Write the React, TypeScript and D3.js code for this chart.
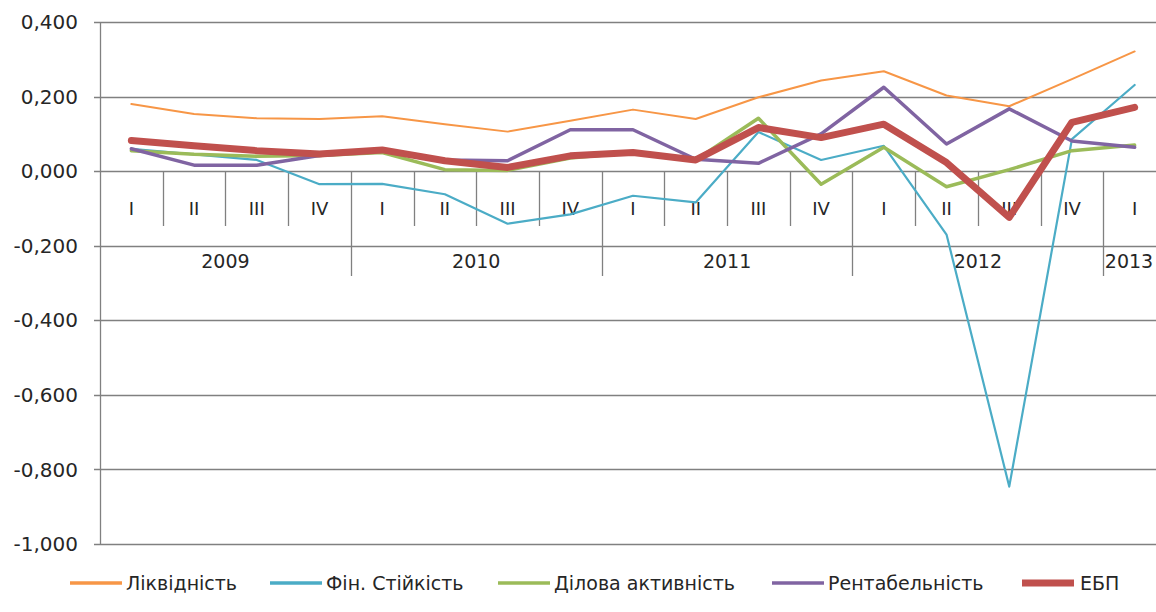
import * as React from 'react';
import * as d3 from 'd3';

const quarters = ['I', 'II', 'III', 'IV', 'I', 'II', 'III', 'IV', 'I', 'II', 'III', 'IV', 'I', 'II', 'III', 'IV', 'I'];
const years = ['2009', '2010', '2011', '2012', '2013'];
const yearSpans = [4, 4, 4, 4, 1];
const yTicks = [0.4, 0.2, 0, -0.2, -0.4, -0.6, -0.8, -1.0];

const liquidity = [0.180, 0.153, 0.142, 0.140, 0.147, 0.126, 0.106, 0.135, 0.165, 0.140, 0.198, 0.243, 0.268, 0.203, 0.174, 0.247, 0.321];
const finStability = [0.060, 0.045, 0.030, -0.035, -0.034, -0.062, -0.141, -0.116, -0.066, -0.084, 0.105, 0.030, 0.068, -0.170, -0.846, 0.086, 0.231];
const activity = [0.055, 0.045, 0.040, 0.042, 0.050, 0.004, 0.002, 0.035, 0.050, 0.030, 0.142, -0.035, 0.064, -0.042, 0.004, 0.055, 0.070];
const profitability = [0.060, 0.016, 0.016, 0.042, 0.055, 0.030, 0.028, 0.111, 0.111, 0.032, 0.021, 0.100, 0.225, 0.073, 0.167, 0.081, 0.064];
const ebp = [0.082, 0.068, 0.055, 0.046, 0.057, 0.028, 0.010, 0.041, 0.050, 0.030, 0.117, 0.090, 0.126, 0.023, -0.124, 0.131, 0.171];

const series = [
	{name: 'Ліквідність', values: liquidity, color: '#F79646', width: 2},
	{name: 'Фін. Стійкість', values: finStability, color: '#4BACC6', width: 2.2},
	{name: 'Ділова активність', values: activity, color: '#9BBB59', width: 3.5},
	{name: 'Рентабельність', values: profitability, color: '#8064A2', width: 3.5},
	{name: 'ЕБП', values: ebp, color: '#C0504D', width: 7},
];

const legendX = [70, 270, 498, 772, 1022];

const FONT = '"DejaVu Sans", sans-serif';
const W = 1156, H = 612;

const draw = (svgEl: SVGSVGElement) => {
	const svg = d3.select(svgEl);
	svg.html('');

	const left = 100, right = 1166, top = 22, bottom = 544;
	const x = d3.scaleBand<number>()
		.domain(quarters.map((_, i) => i))
		.range([left, right]);
	const y = d3.scaleLinear().domain([-1, 0.4]).range([bottom, top]);
	const cx = (i: number) => (x(i) as number) + x.bandwidth() / 2;
	const fmt = (v: number) => d3.format('.3f')(v).replace('.', ',').replace('−', '-');

	const grid = svg.append('g');
	grid.selectAll('line')
		.data(yTicks)
		.enter().append('line')
		.attr('x1', left - 6)
		.attr('x2', right)
		.attr('y1', d => Math.round(y(d)) + 0.5)
		.attr('y2', d => Math.round(y(d)) + 0.5)
		.attr('stroke', '#808080')
		.attr('stroke-width', 1.3);

	svg.append('line')
		.attr('x1', left + 0.5).attr('x2', left + 0.5)
		.attr('y1', top).attr('y2', bottom)
		.attr('stroke', '#808080')
		.attr('stroke-width', 1.3);

	svg.append('g').selectAll('text')
		.data(yTicks)
		.enter().append('text')
		.attr('x', 78)
		.attr('y', d => y(d))
		.attr('dy', '0.36em')
		.attr('text-anchor', 'end')
		.style('font-family', FONT)
		.style('font-size', '20px')
		.attr('fill', '#262626')
		.text(fmt);

	// category axis at zero
	const y0 = Math.round(y(0)) + 0.5;
	const qTicks = quarters.map((_, i) => i).slice(1);
	const yearStarts = yearSpans.map((_, i) => d3.sum(yearSpans.slice(0, i)));
	svg.append('g').selectAll('line')
		.data(qTicks)
		.enter().append('line')
		.attr('x1', d => Math.round(x(d) as number) + 0.5)
		.attr('x2', d => Math.round(x(d) as number) + 0.5)
		.attr('y1', y0)
		.attr('y2', d => yearStarts.indexOf(d) >= 0 ? 276 : 226)
		.attr('stroke', '#808080')
		.attr('stroke-width', 1.3);

	svg.append('g').selectAll('text')
		.data(quarters)
		.enter().append('text')
		.attr('x', (_, i) => cx(i))
		.attr('y', 209)
		.attr('dy', '0.36em')
		.attr('text-anchor', 'middle')
		.style('font-family', FONT)
		.style('font-size', '18px')
		.attr('fill', '#262626')
		.text(d => d);

	// last year label is kept inside the visible width
	svg.append('g').selectAll('text')
		.data(years)
		.enter().append('text')
		.attr('x', (_, i) => {
			const a = x(yearStarts[i]) as number;
			const b = (x(yearStarts[i] + yearSpans[i] - 1) as number) + x.bandwidth();
			return Math.min((a + b) / 2, W - 27);
		})
		.attr('y', 261)
		.attr('dy', '0.36em')
		.attr('text-anchor', 'middle')
		.style('font-family', FONT)
		.style('font-size', '19px')
		.attr('fill', '#262626')
		.text(d => d);

	const line = d3.line<number>()
		.x((_, i) => cx(i))
		.y(d => y(d));

	svg.append('g').selectAll('path')
		.data(series)
		.enter().append('path')
		.attr('d', d => line(d.values))
		.attr('fill', 'none')
		.attr('stroke', d => d.color)
		.attr('stroke-width', d => d.width)
		.attr('stroke-linejoin', 'round')
		.attr('stroke-linecap', 'round');

	const legend = svg.append('g').selectAll('g')
		.data(series)
		.enter().append('g')
		.attr('transform', (_, i) => 'translate(' + legendX[i] + ',583)');
	legend.append('line')
		.attr('x1', 0).attr('x2', 52)
		.attr('y1', 0).attr('y2', 0)
		.attr('stroke', d => d.color)
		.attr('stroke-width', d => d.name === 'ЕБП' ? 7 : 3.5);
	legend.append('text')
		.attr('x', d => d.name === 'ЕБП' ? 58 : 56)
		.attr('y', 0)
		.attr('dy', '0.36em')
		.style('font-family', FONT)
		.style('font-size', '19px')
		.attr('fill', '#262626')
		.text(d => d.name);
};

export default function App() {
	const ref = React.useRef<SVGSVGElement>(null);
	React.useEffect(() => {
		if (ref.current) draw(ref.current);
	}, []);
	return (
		<svg
			ref={ref}
			width={W}
			height={H}
			style={{position: 'absolute', left: 0, top: 0, background: '#fff'}}
		/>
	);
}
